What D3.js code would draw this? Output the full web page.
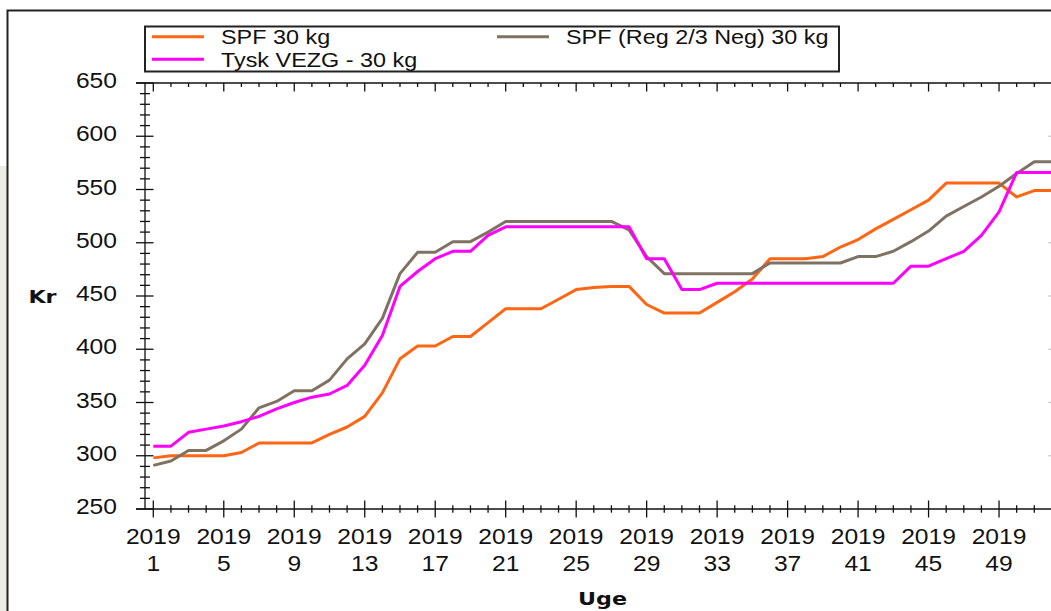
<!DOCTYPE html>
<html>
<head>
  <title>Smågrisepriser 2019</title>
  <script src="https://d3js.org/d3.v7.min.js"></script>
  <style>
    body { margin: 0; background: #fff; }
    svg { display: block; }
    text { font-family: "Liberation Sans", Arial, sans-serif; fill: #111; }
    .bold { font-family: "DejaVu Sans", Verdana, sans-serif; font-weight: bold; }
  </style>
</head>
<body>
  <div id="chart"></div>
  <script>
    // weeks of 2019
    const weeks = [1, 2, 3, 4, 5, 6, 7, 8, 9, 10, 11, 12, 13, 14, 15, 16, 17, 18, 19, 20,
                   21, 22, 23, 24, 25, 26, 27, 28, 29, 30, 31, 32, 33, 34, 35, 36, 37, 38, 39, 40,
                   41, 42, 43, 44, 45, 46, 47, 48, 49, 50, 51, 52];
    const labelWeeks = [1, 5, 9, 13, 17, 21, 25, 29, 33, 37, 41, 45, 49];
    const yTicks = [250, 300, 350, 400, 450, 500, 550, 600, 650];

    // prices, kr
    const spf30 = [298, 300, 300, 300, 300, 303, 312, 312, 312, 312, 320, 327, 337, 359, 391, 403, 403, 412, 412, 425,
                   438, 438, 438, 447, 456, 458, 459, 459, 442, 434, 434, 434, 444, 454, 466, 485, 485, 485, 487, 496,
                   503, 513, 522, 531, 540, 556, 556, 556, 556, 543, 549, 549];
    const spfReg = [291, 295, 305, 305, 314, 325, 345, 351, 361, 361, 371, 391, 405, 429, 471, 491, 491, 501, 501, 510,
                    520, 520, 520, 520, 520, 520, 520, 512, 487, 471, 471, 471, 471, 471, 471, 481, 481, 481, 481, 481,
                    487, 487, 492, 501, 511, 525, 534, 543, 553, 565, 576, 576];
    const vezg = [309, 309, 322, 325, 328, 332, 337, 344, 350, 355, 358, 366, 385, 413, 459, 473, 485, 492, 492, 507,
                  515, 515, 515, 515, 515, 515, 515, 515, 485, 485, 456, 456, 462, 462, 462, 462, 462, 462, 462, 462,
                  462, 462, 462, 478, 478, 485, 492, 507, 529, 566, 566, 566];

    const seriesNames = ["SPF 30 kg", "SPF (Reg 2/3 Neg) 30 kg", "Tysk VEZG - 30 kg"];
    const seriesColors = ["#ff6614", "#7f7262", "#ff00ff"];
    const seriesValues = [spf30, spfReg, vezg];

    const width = 1051;
    const height = 611;

    const svg = d3.select("#chart")
      .append("svg")
      .attr("width", width)
      .attr("height", height);

    // grey strip and frame on the left
    svg.append("rect").attr("x", 0).attr("y", 166).attr("width", 7).attr("height", height - 166).attr("fill", "#ecebe6");
    svg.append("path")
      .attr("d", `M7.5,${height} V10.5 H${width}`)
      .attr("fill", "none").attr("stroke", "#222").attr("stroke-width", 2);

    const xScale = d3.scaleLinear().domain([1, 52]).range([153.3, 1051.9]);
    const yScale = d3.scaleLinear().domain([250, 650]).range([509, 83]);

    const axisX = 145;       // left axis line
    const plotTop = yScale(650);
    const plotBottom = yScale(250);
    const axisColor = "#111";

    const axes = svg.append("g").attr("stroke", axisColor).attr("stroke-width", 1.3);

    // axis lines
    axes.append("line").attr("x1", 136).attr("x2", width).attr("y1", plotBottom).attr("y2", plotBottom);
    axes.append("line").attr("x1", 136).attr("x2", width).attr("y1", plotTop).attr("y2", plotTop);
    axes.append("line").attr("x1", axisX).attr("x2", axisX).attr("y1", plotTop).attr("y2", plotBottom);

    // left ticks, every 10 kr, major every 50
    const minorY = d3.range(250, 651, 10);
    axes.selectAll(".ytick")
      .data(minorY)
      .join("line")
      .attr("class", "ytick")
      .attr("x1", d => d % 50 === 0 ? axisX - 9 : axisX - 5)
      .attr("x2", d => d % 50 === 0 ? axisX + 8.5 : axisX + 5)
      .attr("y1", d => yScale(d))
      .attr("y2", d => yScale(d));

    // right ticks (axis itself is just outside the picture)
    svg.append("g").attr("stroke", "#c4c4c4").attr("stroke-width", 1.3)
      .selectAll("line")
      .data(yTicks.slice(1, -1))
      .join("line")
      .attr("x1", 1048.5).attr("x2", 1055)
      .attr("y1", d => yScale(d)).attr("y2", d => yScale(d));

    // bottom ticks crossing the axis, top ticks pointing down
    axes.selectAll(".xtick")
      .data(weeks)
      .join("line")
      .attr("class", "xtick")
      .attr("x1", d => xScale(d))
      .attr("x2", d => xScale(d))
      .attr("y1", d => labelWeeks.includes(d) ? plotBottom - 8.5 : plotBottom - 3.7)
      .attr("y2", d => labelWeeks.includes(d) ? plotBottom + 8.5 : plotBottom + 3.7);

    axes.selectAll(".xtoptick")
      .data(weeks)
      .join("line")
      .attr("class", "xtoptick")
      .attr("x1", d => xScale(d))
      .attr("x2", d => xScale(d))
      .attr("y1", plotTop)
      .attr("y2", d => labelWeeks.includes(d) ? plotTop + 8.5 : plotTop + 4);

    // y tick labels
    svg.append("g").selectAll("text")
      .data(yTicks)
      .join("text")
      .attr("transform", d => `translate(117, ${yScale(d) + 5}) scale(1.12, 1)`)
      .attr("text-anchor", "end")
      .attr("font-size", 22)
      .text(d => d);

    // x tick labels, year over week
    const xLabels = svg.append("g").selectAll("g")
      .data(labelWeeks)
      .join("g");
    xLabels.append("text")
      .attr("transform", d => `translate(${xScale(d)}, 544) scale(1.12, 1)`)
      .attr("text-anchor", "middle")
      .attr("font-size", 22)
      .text("2019");
    xLabels.append("text")
      .attr("transform", d => `translate(${xScale(d)}, 571) scale(1.12, 1)`)
      .attr("text-anchor", "middle")
      .attr("font-size", 22)
      .text(d => d);

    // axis titles
    svg.append("text")
      .attr("class", "bold")
      .attr("transform", "translate(42.5, 302.5) scale(1.2, 1)")
      .attr("text-anchor", "middle")
      .attr("font-size", 18.5)
      .text("Kr");
    svg.append("text")
      .attr("class", "bold")
      .attr("transform", "translate(602.5, 605) scale(1.2, 1)")
      .attr("text-anchor", "middle")
      .attr("font-size", 18.5)
      .text("Uge");

    // lines
    const line = d3.line()
      .x((d, i) => xScale(weeks[i]))
      .y(d => yScale(d));

    svg.append("g").selectAll("path")
      .data(seriesValues)
      .join("path")
      .attr("d", d => line(d))
      .attr("fill", "none")
      .attr("stroke", (d, i) => seriesColors[i])
      .attr("stroke-width", 3)
      .attr("stroke-linejoin", "round");

    // legend
    const legend = svg.append("g");
    legend.append("rect")
      .attr("x", 145).attr("y", 26.5)
      .attr("width", 694).attr("height", 45)
      .attr("fill", "#fff").attr("stroke", "#222").attr("stroke-width", 2);

    const legendPos = [
      { x: 152, y: 36.7 },
      { x: 497, y: 36.7 },
      { x: 152, y: 59.3 }
    ];
    const items = legend.selectAll(".item")
      .data(seriesNames)
      .join("g")
      .attr("class", "item");
    items.append("line")
      .attr("x1", (d, i) => legendPos[i].x)
      .attr("x2", (d, i) => legendPos[i].x + 52)
      .attr("y1", (d, i) => legendPos[i].y)
      .attr("y2", (d, i) => legendPos[i].y)
      .attr("stroke", (d, i) => seriesColors[i])
      .attr("stroke-width", 3);
    items.append("text")
      .attr("transform", (d, i) => `translate(${legendPos[i].x + 69}, ${legendPos[i].y + 7.5}) scale(1.17, 1)`)
      .attr("font-size", 20)
      .text(d => d);
  </script>
</body>
</html>
